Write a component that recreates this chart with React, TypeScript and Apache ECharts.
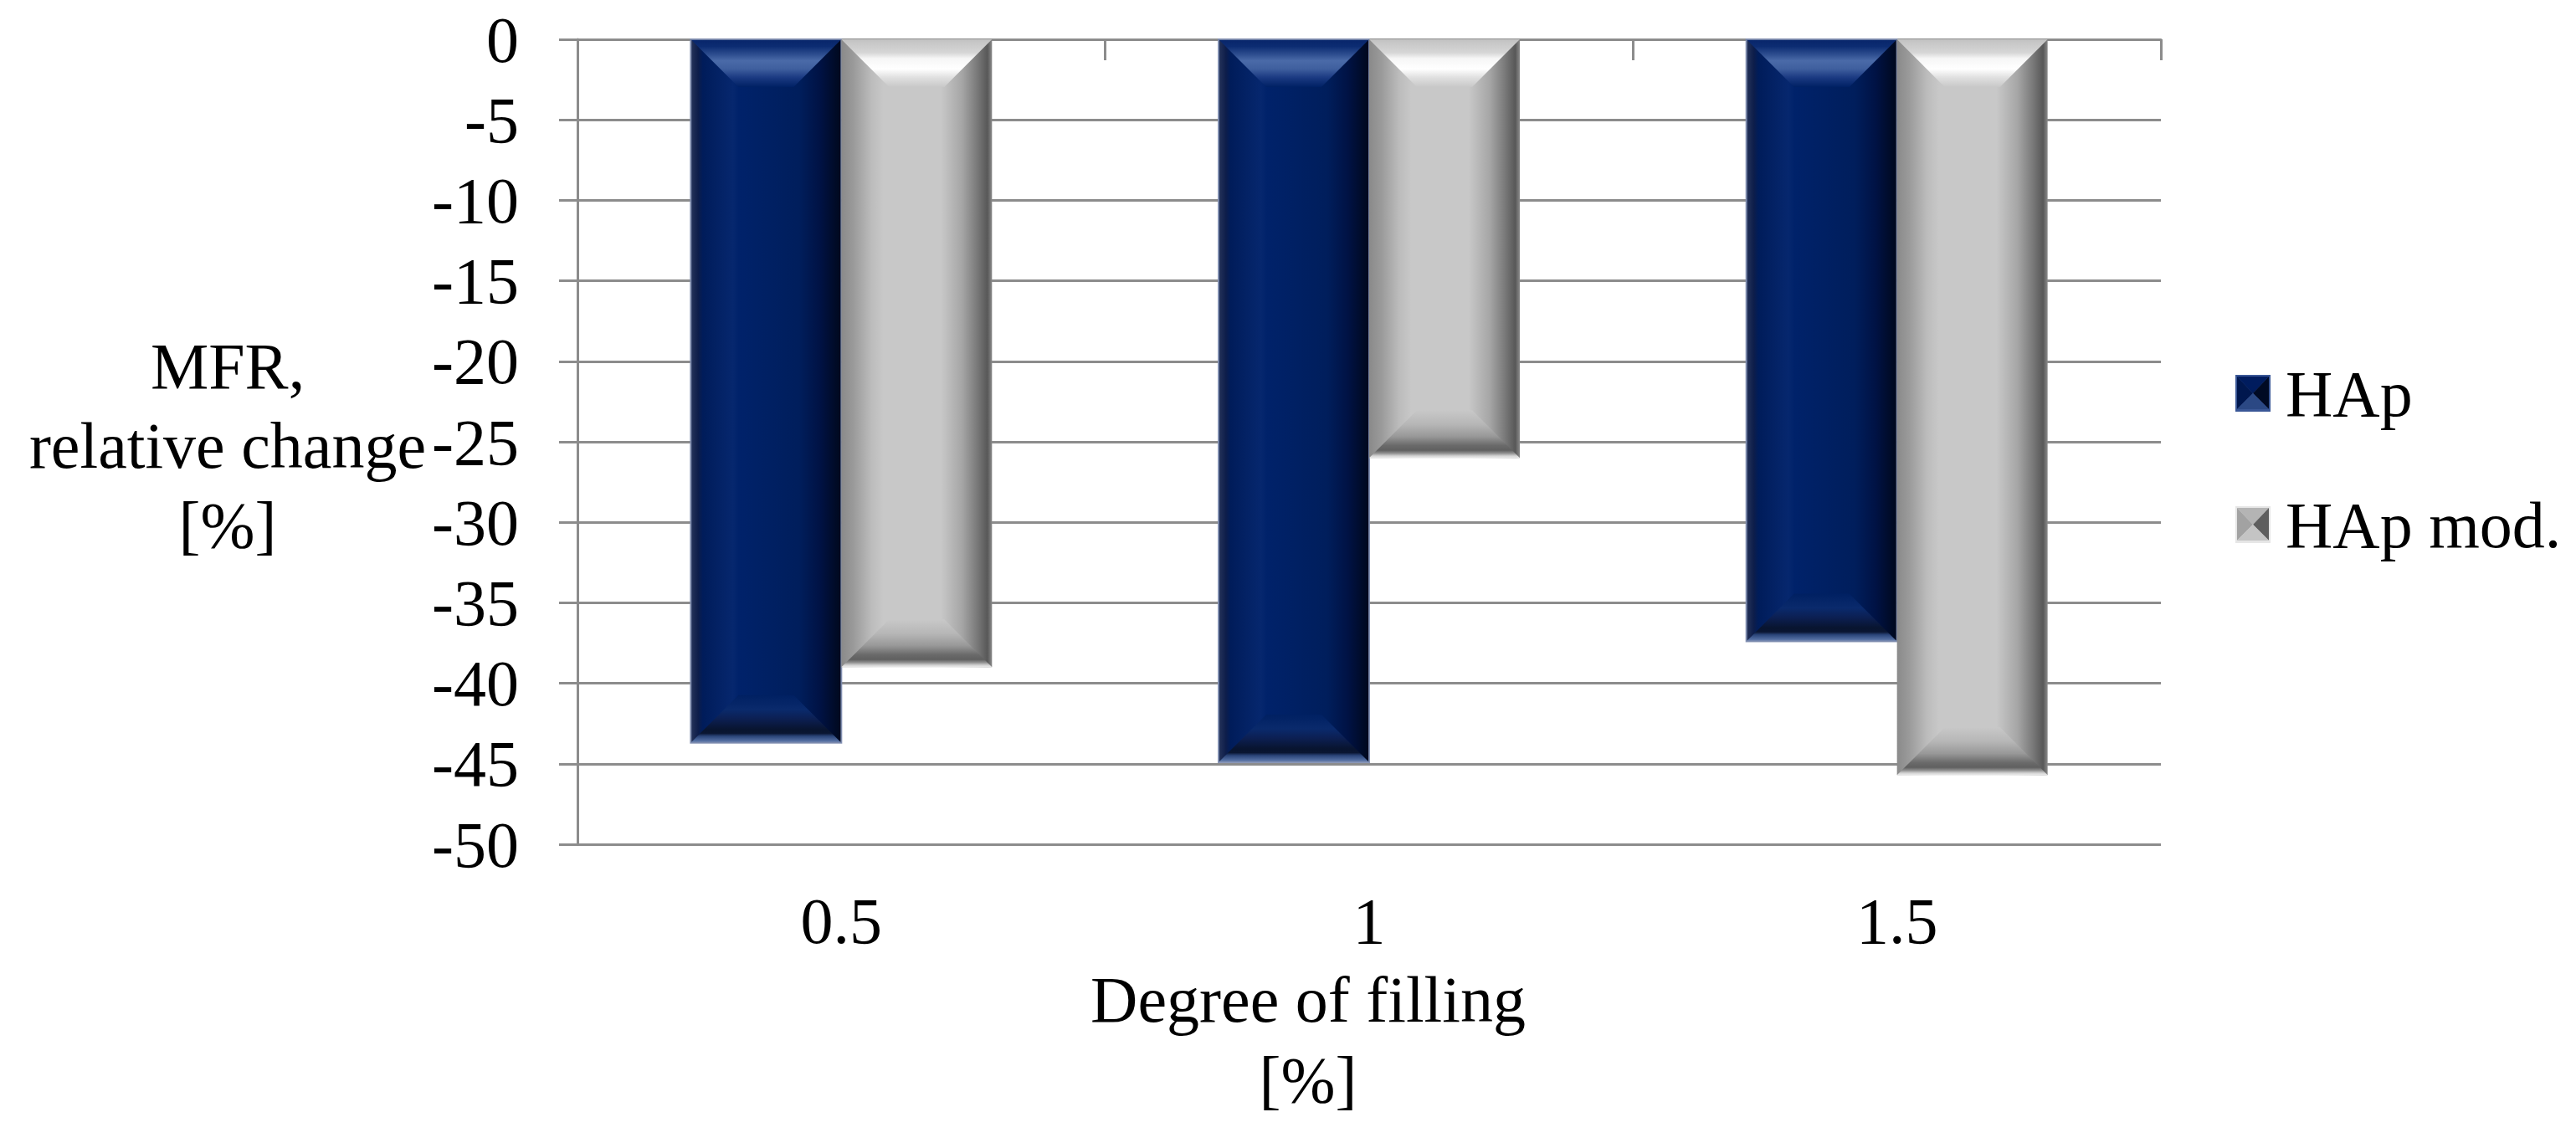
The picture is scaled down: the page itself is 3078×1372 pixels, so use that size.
import React, { useEffect, useRef } from 'react';
import * as echarts from 'echarts';

// ---- data ----
const categories = ['0.5', '1', '1.5'];
const seriesNames = ['HAp', 'HAp mod.'];
const hapValues = [-43.7, -44.9, -37.4];
const hapModValues = [-39.0, -26.0, -45.7];
const yMin = -50;
const yMax = 0;
const yInterval = 5;
const yTitle = 'MFR,\nrelative change\n[%]';
const xTitle = 'Degree of filling\n[%]';

const FONT = "'Liberation Serif', 'Times New Roman', serif";
const GRID_COLOR = '#8c8c8c';
const BAR_RATIO = 0.2854;

type Stop = [number, string];
interface Palette {
  side: Stop[];
  top: Stop[];
  bottom: Stop[];
  stroke: string | null;
}

const bluePalette: Palette = {
  side: [
    [0, '#26345a'],
    [0.05, '#0d1d4a'],
    [0.08, '#001c5a'],
    [0.28, '#06276e'],
    [0.32, '#00226a'],
    [0.72, '#001e5c'],
    [0.86, '#001244'],
    [1, '#00081c'],
  ],
  top: [
    [0, '#08256a'],
    [0.15, '#0c2c72'],
    [0.3, '#2a4a8c'],
    [0.45, '#4a6aa8'],
    [0.62, '#3f5f9e'],
    [0.8, '#1b3a82'],
    [1, '#002164'],
  ],
  bottom: [
    [0, '#002062'],
    [0.3, '#0a2a6c'],
    [0.5, '#0c1f52'],
    [0.72, '#08142f'],
    [0.8, '#0a1632'],
    [0.86, '#2a4478'],
    [0.95, '#4f6a9e'],
    [1, '#7388b2'],
  ],
  stroke: 'rgba(125,140,175,0.9)',
};

const grayPalette: Palette = {
  side: [
    [0, '#8a8a8a'],
    [0.08, '#9a9a9a'],
    [0.2, '#bcbcbc'],
    [0.28, '#c8c8c8'],
    [0.66, '#c8c8c8'],
    [0.8, '#a6a6a6'],
    [0.9, '#7a7a7a'],
    [0.97, '#585858'],
    [1, '#8a8a8a'],
  ],
  top: [
    [0, '#c2c2c2'],
    [0.28, '#d6d6d6'],
    [0.4, '#f6f6f6'],
    [0.62, '#ffffff'],
    [0.8, '#e0e0e0'],
    [1, '#c8c8c8'],
  ],
  bottom: [
    [0, '#c8c8c8'],
    [0.3, '#b6b6b6'],
    [0.55, '#989898'],
    [0.74, '#6a6a6a'],
    [0.84, '#606060'],
    [0.9, '#8e8e8e'],
    [0.96, '#d4d4d4'],
    [1, '#ebebeb'],
  ],
  stroke: null,
};

const grad = (x2: number, y2: number, stops: Stop[]) =>
  new echarts.graphic.LinearGradient(
    0,
    0,
    x2,
    y2,
    stops.map(([offset, color]) => ({ offset, color }))
  );

function makeRenderItem(slot: number, pal: Palette) {
  return (params: any, api: any) => {
    const ci = api.value(0);
    const v = api.value(1);
    const p0 = api.coord([ci, 0]);
    const p1 = api.coord([ci, v]);
    const band = api.size([1, 0])[0];
    const bw = band * BAR_RATIO;
    const x0 = p0[0] - bw + slot * bw;
    const x1 = x0 + bw;
    const yTop = Math.min(p0[1], p1[1]);
    const yBot = Math.max(p0[1], p1[1]);
    const h = yBot - yTop;
    const b = Math.min(57, h / 2, bw / 2);
    const children: any[] = [
      {
        type: 'rect',
        shape: { x: x0, y: yTop, width: bw, height: h },
        style: { fill: grad(1, 0, pal.side) },
      },
      {
        type: 'polygon',
        shape: {
          points: [
            [x0, yTop],
            [x1, yTop],
            [x1 - b, yTop + b],
            [x0 + b, yTop + b],
          ],
        },
        style: { fill: grad(0, 1, pal.top) },
      },
      {
        type: 'polygon',
        shape: {
          points: [
            [x0 + b, yBot - b],
            [x1 - b, yBot - b],
            [x1, yBot],
            [x0, yBot],
          ],
        },
        style: { fill: grad(0, 1, pal.bottom) },
      },
    ];
    if (pal.stroke) {
      children.push({
        type: 'rect',
        shape: { x: x0, y: yTop, width: bw, height: h },
        style: { fill: 'none', stroke: pal.stroke, lineWidth: 2 },
      });
    }
    return { type: 'group', children };
  };
}

const svgIcon = (svg: string) =>
  'image://data:image/svg+xml;charset=utf-8,' + encodeURIComponent(svg);

const blueIcon = svgIcon(
  "<svg xmlns='http://www.w3.org/2000/svg' width='42' height='44' viewBox='0 0 42 44'>" +
    "<rect width='42' height='44' fill='#3a5796'/>" +
    "<polygon points='2,2 40,2 21,22' fill='#001c5e'/>" +
    "<polygon points='2,2 21,22 2,41' fill='#00174e'/>" +
    "<polygon points='40,2 40,41 21,22' fill='#000a24'/>" +
    "<polygon points='2,41 40,41 21,22' fill='#2b4884'/>" +
    '</svg>'
);

const grayIcon = svgIcon(
  "<svg xmlns='http://www.w3.org/2000/svg' width='42' height='44' viewBox='0 0 42 44'>" +
    "<rect width='42' height='44' fill='#e6e6e6'/>" +
    "<polygon points='2,2 40,2 21,22' fill='#b4b4b4'/>" +
    "<polygon points='2,2 21,22 2,41' fill='#a2a2a2'/>" +
    "<polygon points='40,2 40,41 21,22' fill='#5e5e5e'/>" +
    "<polygon points='2,41 40,41 21,22' fill='#c4c4c4'/>" +
    '</svg>'
);

export default function App() {
  const ref = useRef<HTMLDivElement>(null);

  useEffect(() => {
    if (!ref.current) return;
    const chart = echarts.init(ref.current, null, { renderer: 'svg' });

    const hapData = categories.map((_, i) => [i, hapValues[i]]);
    const modData = categories.map((_, i) => [i, hapModValues[i]]);

    chart.setOption({
      animation: false,
      backgroundColor: '#ffffff',
      grid: { left: 690, right: 496, top: 47, bottom: 363, containLabel: false },
      legend: {
        orient: 'vertical',
        left: 2666,
        top: 426,
        itemWidth: 42,
        itemHeight: 44,
        itemGap: 79,
        selectedMode: false,
        textStyle: {
          fontFamily: FONT,
          fontSize: 78,
          lineHeight: 78,
          color: '#000',
          padding: [0, 0, 0, 13],
        },
        data: [
          { name: seriesNames[0], icon: blueIcon },
          { name: seriesNames[1], icon: grayIcon },
        ],
      },
      xAxis: [
        {
          type: 'category',
          data: categories,
          position: 'bottom',
          axisLine: { show: false, onZero: false },
          axisTick: { show: false },
          splitLine: { show: false },
          axisLabel: {
            margin: 52,
            fontFamily: FONT,
            fontSize: 78,
            lineHeight: 78,
            color: '#000',
          },
        },
        {
          type: 'category',
          data: categories,
          position: 'top',
          axisLine: { show: true, onZero: false, lineStyle: { color: GRID_COLOR, width: 3 } },
          axisTick: { show: true, inside: true, length: 25, lineStyle: { color: GRID_COLOR, width: 3 } },
          axisLabel: { show: false },
          splitLine: { show: false },
        },
      ],
      yAxis: {
        type: 'value',
        min: yMin,
        max: yMax,
        interval: yInterval,
        axisLine: { show: true, lineStyle: { color: GRID_COLOR, width: 3 } },
        axisTick: { show: true, inside: false, length: 22, lineStyle: { color: GRID_COLOR, width: 3 } },
        splitLine: { show: true, lineStyle: { color: GRID_COLOR, width: 3 } },
        axisLabel: {
          margin: 70,
          fontFamily: FONT,
          fontSize: 78,
          color: '#000',
        },
      },
      graphic: [
        {
          type: 'text',
          x: 272,
          y: 532,
          style: {
            text: yTitle,
            fontFamily: FONT,
            fontSize: 78,
            lineHeight: 95,
            fill: '#000',
            align: 'center',
            verticalAlign: 'middle',
          },
        },
        {
          type: 'text',
          x: 1563,
          y: 1242,
          style: {
            text: xTitle,
            fontFamily: FONT,
            fontSize: 78,
            lineHeight: 96,
            fill: '#000',
            align: 'center',
            verticalAlign: 'middle',
          },
        },
      ],
      series: [
        {
          name: seriesNames[0],
          type: 'custom',
          xAxisIndex: 0,
          yAxisIndex: 0,
          itemStyle: { color: '#002060' },
          encode: { x: 0, y: 1 },
          data: hapData,
          renderItem: makeRenderItem(0, bluePalette),
          z: 3,
        },
        {
          name: seriesNames[1],
          type: 'custom',
          xAxisIndex: 0,
          yAxisIndex: 0,
          itemStyle: { color: '#c8c8c8' },
          encode: { x: 0, y: 1 },
          data: modData,
          renderItem: makeRenderItem(1, grayPalette),
          z: 3,
        },
      ],
    });

    return () => {
      chart.dispose();
    };
  }, []);

  return (
    <div
      ref={ref}
      style={{ position: 'absolute', left: 0, top: 0, width: 3078, height: 1372 }}
    />
  );
}
